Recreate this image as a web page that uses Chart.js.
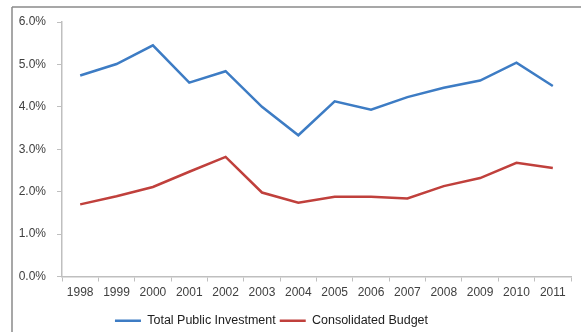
<!DOCTYPE html>
<html>
<head>
<meta charset="utf-8">
<script src="https://cdn.jsdelivr.net/npm/chart.js@4.4.0/dist/chart.umd.min.js"></script>
<style>
  html, body { margin: 0; padding: 0; background: #fff; }
  #wrap { width: 581px; height: 332px; }
</style>
</head>
<body>
<div id="wrap"><canvas id="investChart" width="581" height="332"></canvas></div>
<script>
const years = ["1998", "1999", "2000", "2001", "2002", "2003", "2004", "2005", "2006", "2007", "2008", "2009", "2010", "2011"];
const totalPublicInvestment = [4.74, 5.01, 5.45, 4.57, 4.84, 4.0, 3.33, 4.13, 3.93, 4.23, 4.45, 4.62, 5.04, 4.49];
const consolidatedBudget = [1.70, 1.89, 2.11, 2.47, 2.82, 1.98, 1.74, 1.88, 1.88, 1.84, 2.13, 2.32, 2.68, 2.56];
const yTicks = [0, 1, 2, 3, 4, 5, 6];

const axisGrey = "#bfbfbf";
const labelColor = "#404040";

// page frame lines (top + left) like in the scanned figure
const framePlugin = {
  id: "frame",
  beforeDraw(chart) {
    const ctx = chart.ctx;
    ctx.save();
    ctx.fillStyle = "#fff";
    ctx.fillRect(0, 0, chart.width, chart.height);
    ctx.strokeStyle = "#8a8a8a";
    ctx.lineWidth = 1.5;
    ctx.beginPath();
    ctx.moveTo(12, 7);
    ctx.lineTo(chart.width, 7);
    ctx.moveTo(12, 7);
    ctx.lineTo(12, chart.height);
    ctx.stroke();
    ctx.restore();
  },
};

// nudge the legend a bit left/down, it isn't centred in the original
const legendNudge = {
  id: "legendNudge",
  afterLayout(chart) {
    const lg = chart.legend;
    if (!lg) return;
    lg.left -= 20;
    lg.right -= 20;
    lg.top += 5;
    lg.bottom += 5;
  },
};

Chart.defaults.font.family = "'Liberation Sans', Arial, sans-serif";
Chart.defaults.font.size = 12;
Chart.defaults.color = labelColor;

new Chart(document.getElementById("investChart"), {
  type: "line",
  data: {
    labels: years,
    datasets: [
      {
        label: "Total Public Investment",
        data: totalPublicInvestment,
        borderColor: "#3d7cc4",
        backgroundColor: "#3d7cc4",
        borderWidth: 2.5,
        pointRadius: 0,
        tension: 0,
      },
      {
        label: "Consolidated Budget",
        data: consolidatedBudget,
        borderColor: "#c0403c",
        backgroundColor: "#c0403c",
        borderWidth: 2.5,
        pointRadius: 0,
        tension: 0,
      },
    ],
  },
  options: {
    responsive: false,
    animation: false,
    layout: { padding: { left: 12, right: 10, top: 22, bottom: 0 } },
    plugins: {
      legend: {
        position: "bottom",
        labels: {
          usePointStyle: true,
          pointStyle: "line",
          pointStyleWidth: 26,
          boxHeight: 12,
          padding: 4,
          font: { size: 12.5 },
          color: "#202020",
        },
      },
      tooltip: { enabled: false },
    },
    scales: {
      x: {
        offset: true,
        grid: {
          offset: true,
          drawOnChartArea: false,
          drawTicks: true,
          tickLength: 5,
          color: axisGrey,
        },
        border: { color: axisGrey, width: 1.5 },
        ticks: { padding: 4, maxRotation: 0, autoSkip: false, font: { size: 12 } },
        afterFit: (scale) => { scale.height = 29; },
      },
      y: {
        min: 0,
        max: 6,
        afterBuildTicks: (scale) => {
          scale.ticks = yTicks.map((v) => ({ value: v }));
        },
        grid: {
          drawOnChartArea: false,
          drawTicks: true,
          tickLength: 5,
          color: axisGrey,
        },
        border: { color: axisGrey, width: 1.5 },
        ticks: {
          padding: 11,
          font: { size: 12 },
          callback: (v) => v.toFixed(1) + "%",
        },
        afterFit: (scale) => { scale.width = 50; },
      },
    },
  },
  plugins: [framePlugin, legendNudge],
});
</script>
</body>
</html>
